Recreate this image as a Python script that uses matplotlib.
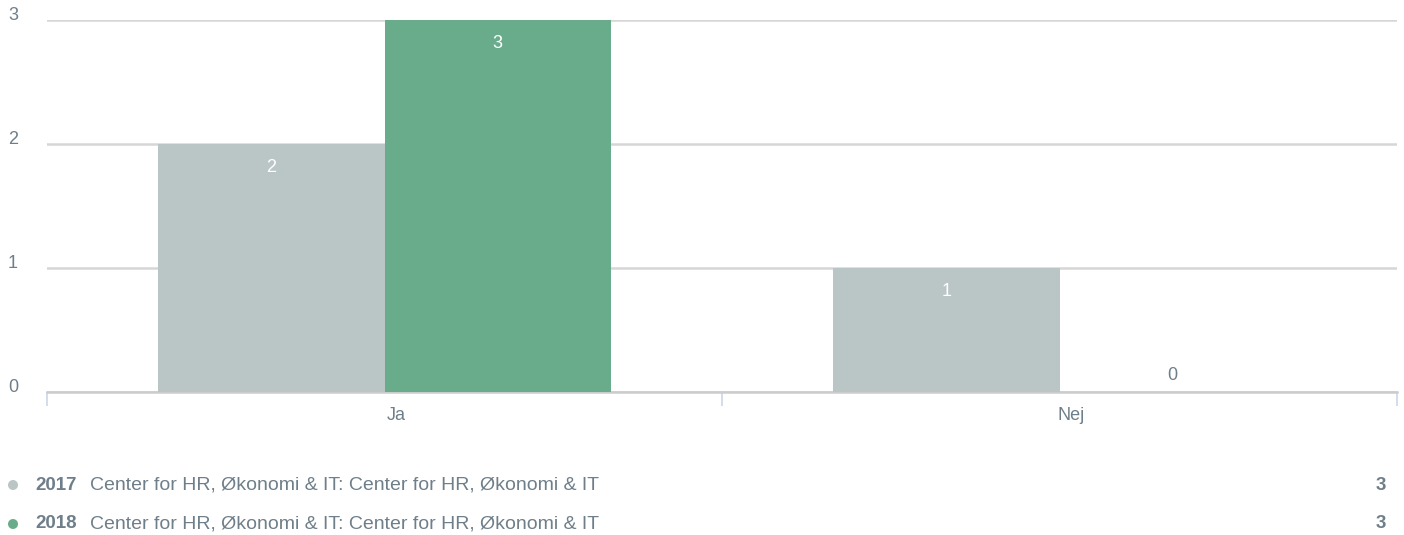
import matplotlib
matplotlib.use("Agg")
import matplotlib.pyplot as plt
from matplotlib.patches import Circle
from matplotlib.transforms import offset_copy
import numpy as np

plt.rcParams["font.family"] = ["Liberation Sans", "DejaVu Sans"]

# Data
categories = ["Ja", "Nej"]
series_names = ["2017", "2018"]
series_labels = ["Center for HR, Økonomi & IT: Center for HR, Økonomi & IT",
                 "Center for HR, Økonomi & IT: Center for HR, Økonomi & IT"]
values_2017 = [2, 1]
values_2018 = [3, 0]
totals = [3, 3]
yticks = [0, 1, 2, 3]

colors = ["#bac5c6", "#69ac8b"]
text_gray = "#6f7f8a"
fs = 13

W, H = 1404, 535
fig = plt.figure(figsize=(W / 100, H / 100), dpi=100)
ax = fig.add_axes([47 / W, 1 - 392 / H, 1350 / W, 372 / H])

x = np.arange(len(categories))
width = 0.335
for i, vals in enumerate([values_2017, values_2018]):
    offs = (i - 0.5) * width
    bars = ax.bar(x + offs, vals, width, color=colors[i], zorder=3)
    for b, v in zip(bars, vals):
        cx = b.get_x() + b.get_width() / 2
        if v > 0:
            tr = offset_copy(ax.transData, fig=fig, x=0, y=-23, units="dots")
            ax.text(cx, v, str(v), ha="center", va="center", transform=tr,
                    color="white", fontsize=fs, zorder=4)
        else:
            tr = offset_copy(ax.transData, fig=fig, x=0, y=17, units="dots")
            ax.text(cx, v, str(v), ha="center", va="center", transform=tr,
                    color=text_gray, fontsize=fs, zorder=4)

ax.set_xlim(-0.5, 1.5)
ax.set_ylim(0, 3)
ax.set_yticks(yticks)
ax.yaxis.grid(True, color="#d6d6d6", linewidth=1.8, zorder=0)
ax.set_axisbelow(True)
for s in ["top", "right", "left"]:
    ax.spines[s].set_visible(False)
ax.spines["bottom"].set_color("#cccccc")
ax.spines["bottom"].set_linewidth(1.8)
ax.tick_params(axis="y", length=0, labelleft=False)
ax.set_xticks([])
ax.set_xticks([-0.5, 0.5, 1.5], minor=True)
ax.tick_params(axis="x", which="minor", length=10, width=1.2, color="#ccd6eb",
               labelbottom=False)

# category labels (drawn a bit right of the bar group centre, like the source)
for xi, c in zip(x, categories):
    tr = offset_copy(ax.get_xaxis_transform(), fig=fig, x=12, y=-23, units="dots")
    ax.text(xi, 0, c, ha="center", va="center", transform=tr,
            color=text_gray, fontsize=fs)

# overlay in pixel coordinates for y labels and legend
ov = fig.add_axes([0, 0, 1, 1], zorder=-1)
ov.set_xlim(0, W)
ov.set_ylim(H, 0)
ov.axis("off")

for v in yticks:
    ov.text(8, 392 - v * 124, str(v), ha="left", va="baseline",
            color=text_gray, fontsize=fs)

rows_y = [485, 524]
for i in range(len(series_names)):
    yr = rows_y[i]
    ov.add_patch(Circle((13, yr), 5, color=colors[i], lw=0))
    ov.text(35, yr, series_names[i], ha="left", va="center",
            color=text_gray, fontsize=13.5, fontweight="bold")
    ov.text(90, yr, series_labels[i], ha="left", va="center",
            color=text_gray, fontsize=14)
    ov.text(1386, yr, str(totals[i]), ha="right", va="center",
            color=text_gray, fontsize=13.5, fontweight="bold")

fig.savefig("out.png", dpi=100)
